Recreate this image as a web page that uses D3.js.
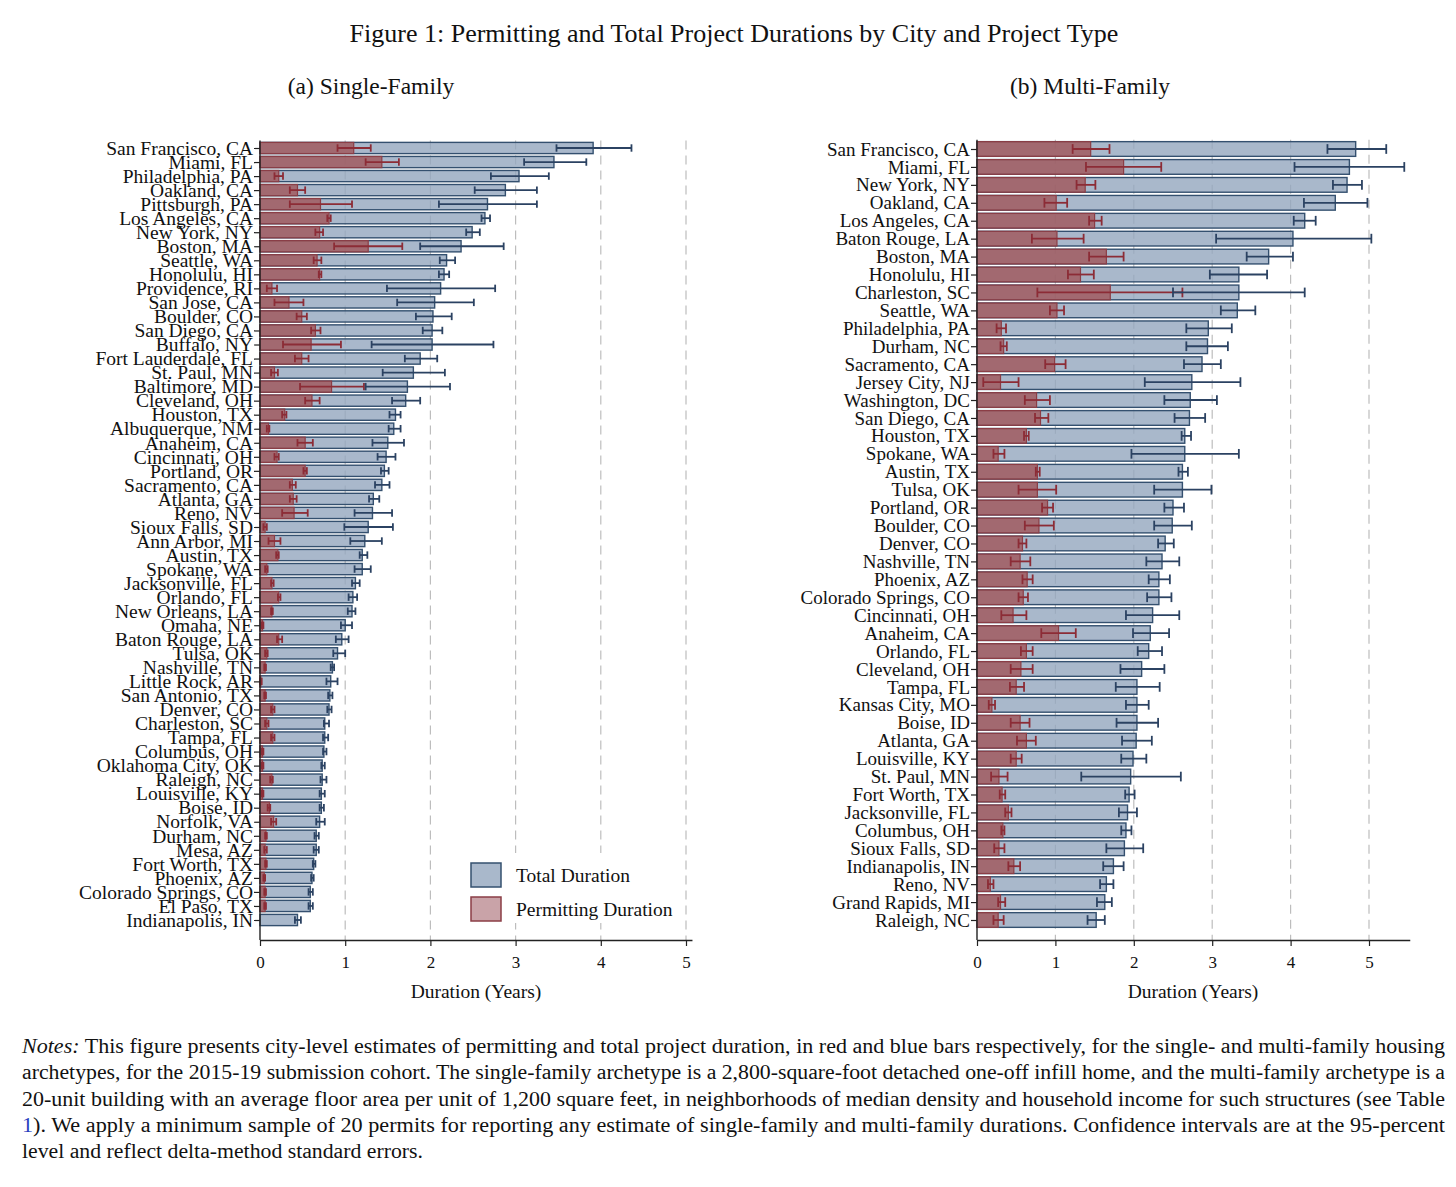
<!DOCTYPE html>
<html>
<head>
<meta charset="utf-8">
<script src="https://cdn.jsdelivr.net/npm/d3@7"></script>
<style>
  body { margin: 0; background: #ffffff; }
  svg text { font-family: "Liberation Serif", "Times New Roman", serif; fill: #111; }
</style>
</head>
<body>
<div id="chart"></div>
<script>
// Permitting and total project durations, single-family and multi-family panels

//---------------------------------------- DATA ----------------------------------------

// (a) Single-Family
const sfCities = ["San Francisco, CA", "Miami, FL", "Philadelphia, PA", "Oakland, CA", "Pittsburgh, PA",
  "Los Angeles, CA", "New York, NY", "Boston, MA", "Seattle, WA", "Honolulu, HI", "Providence, RI",
  "San Jose, CA", "Boulder, CO", "San Diego, CA", "Buffalo, NY", "Fort Lauderdale, FL", "St. Paul, MN",
  "Baltimore, MD", "Cleveland, OH", "Houston, TX", "Albuquerque, NM", "Anaheim, CA", "Cincinnati, OH",
  "Portland, OR", "Sacramento, CA", "Atlanta, GA", "Reno, NV", "Sioux Falls, SD", "Ann Arbor, MI",
  "Austin, TX", "Spokane, WA", "Jacksonville, FL", "Orlando, FL", "New Orleans, LA", "Omaha, NE",
  "Baton Rouge, LA", "Tulsa, OK", "Nashville, TN", "Little Rock, AR", "San Antonio, TX", "Denver, CO",
  "Charleston, SC", "Tampa, FL", "Columbus, OH", "Oklahoma City, OK", "Raleigh, NC", "Louisville, KY",
  "Boise, ID", "Norfolk, VA", "Durham, NC", "Mesa, AZ", "Fort Worth, TX", "Phoenix, AZ",
  "Colorado Springs, CO", "El Paso, TX", "Indianapolis, IN"];
const sfTotal = [3.91, 3.45, 3.04, 2.88, 2.67, 2.64, 2.49, 2.36, 2.19, 2.16, 2.12, 2.05, 2.03, 2.02, 2.02,
  1.88, 1.80, 1.73, 1.71, 1.59, 1.57, 1.50, 1.48, 1.46, 1.43, 1.33, 1.32, 1.27, 1.23, 1.20, 1.20, 1.12,
  1.09, 1.08, 1.00, 0.96, 0.91, 0.85, 0.83, 0.82, 0.81, 0.76, 0.76, 0.75, 0.73, 0.73, 0.72, 0.72, 0.70,
  0.66, 0.66, 0.63, 0.61, 0.59, 0.59, 0.44];
const sfTotalLo = [3.48, 3.10, 2.71, 2.52, 2.10, 2.60, 2.42, 1.88, 2.11, 2.10, 1.49, 1.61, 1.83, 1.91, 1.31,
  1.70, 1.44, 1.24, 1.55, 1.52, 1.51, 1.32, 1.38, 1.42, 1.35, 1.28, 1.11, 0.99, 1.06, 1.17, 1.11, 1.08,
  1.04, 1.03, 0.95, 0.89, 0.86, 0.83, 0.78, 0.80, 0.79, 0.75, 0.74, 0.74, 0.72, 0.71, 0.70, 0.70, 0.66,
  0.64, 0.63, 0.62, 0.60, 0.57, 0.57, 0.41];
const sfTotalHi = [4.36, 3.83, 3.39, 3.25, 3.25, 2.70, 2.58, 2.86, 2.29, 2.22, 2.76, 2.51, 2.25, 2.14, 2.74,
  2.08, 2.17, 2.23, 1.88, 1.65, 1.65, 1.69, 1.59, 1.51, 1.52, 1.40, 1.55, 1.56, 1.43, 1.26, 1.30, 1.17,
  1.14, 1.12, 1.08, 1.04, 1.00, 0.87, 0.91, 0.85, 0.84, 0.81, 0.80, 0.78, 0.76, 0.78, 0.76, 0.75, 0.76,
  0.69, 0.69, 0.65, 0.63, 0.62, 0.62, 0.48];
const sfPermit = [1.10, 1.43, 0.22, 0.44, 0.71, 0.81, 0.70, 1.27, 0.67, 0.70, 0.14, 0.34, 0.49, 0.65, 0.60,
  0.49, 0.17, 0.84, 0.61, 0.29, 0.10, 0.53, 0.20, 0.53, 0.38, 0.39, 0.40, 0.06, 0.17, 0.21, 0.08, 0.14,
  0.22, 0.14, 0.03, 0.22, 0.08, 0.06, 0.01, 0.06, 0.15, 0.08, 0.15, 0.03, 0.03, 0.14, 0.03, 0.11, 0.16,
  0.07, 0.06, 0.07, 0.05, 0.06, 0.06, null];
const sfPermitLo = [0.91, 1.24, 0.17, 0.35, 0.35, 0.79, 0.65, 0.87, 0.63, 0.69, 0.08, 0.17, 0.43, 0.60, 0.27,
  0.41, 0.13, 0.47, 0.53, 0.26, 0.08, 0.44, 0.17, 0.51, 0.35, 0.35, 0.26, 0.04, 0.10, 0.19, 0.06, 0.13,
  0.21, 0.13, 0.02, 0.20, 0.06, 0.05, 0.00, 0.05, 0.13, 0.06, 0.13, 0.02, 0.02, 0.12, 0.02, 0.09, 0.13,
  0.06, 0.05, 0.06, 0.04, 0.05, 0.05, null];
const sfPermitHi = [1.30, 1.63, 0.27, 0.53, 1.08, 0.83, 0.74, 1.67, 0.72, 0.72, 0.20, 0.51, 0.55, 0.71, 0.95,
  0.57, 0.21, 1.22, 0.70, 0.31, 0.11, 0.62, 0.22, 0.55, 0.42, 0.43, 0.56, 0.08, 0.24, 0.22, 0.09, 0.16,
  0.24, 0.15, 0.04, 0.26, 0.09, 0.07, 0.02, 0.07, 0.17, 0.10, 0.17, 0.04, 0.04, 0.15, 0.04, 0.12, 0.19,
  0.08, 0.08, 0.08, 0.06, 0.07, 0.07, null];

// (b) Multi-Family
const mfCities = ["San Francisco, CA", "Miami, FL", "New York, NY", "Oakland, CA", "Los Angeles, CA",
  "Baton Rouge, LA", "Boston, MA", "Honolulu, HI", "Charleston, SC", "Seattle, WA", "Philadelphia, PA",
  "Durham, NC", "Sacramento, CA", "Jersey City, NJ", "Washington, DC", "San Diego, CA", "Houston, TX",
  "Spokane, WA", "Austin, TX", "Tulsa, OK", "Portland, OR", "Boulder, CO", "Denver, CO", "Nashville, TN",
  "Phoenix, AZ", "Colorado Springs, CO", "Cincinnati, OH", "Anaheim, CA", "Orlando, FL", "Cleveland, OH",
  "Tampa, FL", "Kansas City, MO", "Boise, ID", "Atlanta, GA", "Louisville, KY", "St. Paul, MN",
  "Fort Worth, TX", "Jacksonville, FL", "Columbus, OH", "Sioux Falls, SD", "Indianapolis, IN", "Reno, NV",
  "Grand Rapids, MI", "Raleigh, NC"];
const mfTotal = [4.83, 4.75, 4.72, 4.57, 4.18, 4.03, 3.72, 3.34, 3.34, 3.32, 2.95, 2.94, 2.87, 2.74, 2.72,
  2.71, 2.65, 2.65, 2.62, 2.62, 2.50, 2.49, 2.40, 2.36, 2.32, 2.32, 2.24, 2.21, 2.19, 2.10, 2.04, 2.04,
  2.04, 2.03, 1.99, 1.96, 1.94, 1.92, 1.90, 1.88, 1.74, 1.65, 1.63, 1.52];
const mfTotalLo = [4.47, 4.05, 4.54, 4.17, 4.04, 3.05, 3.44, 2.97, 2.50, 3.11, 2.67, 2.67, 2.64, 2.14, 2.39,
  2.52, 2.61, 1.97, 2.57, 2.26, 2.39, 2.26, 2.31, 2.16, 2.19, 2.17, 1.90, 1.99, 2.05, 1.83, 1.77, 1.90,
  1.78, 1.85, 1.84, 1.33, 1.89, 1.81, 1.84, 1.65, 1.61, 1.57, 1.53, 1.41];
const mfTotalHi = [5.22, 5.45, 4.91, 4.98, 4.32, 5.03, 4.03, 3.70, 4.18, 3.55, 3.25, 3.20, 3.11, 3.36, 3.06,
  2.91, 2.73, 3.34, 2.69, 2.99, 2.64, 2.74, 2.51, 2.58, 2.46, 2.48, 2.58, 2.45, 2.36, 2.39, 2.33, 2.19,
  2.31, 2.23, 2.16, 2.60, 2.01, 2.04, 1.97, 2.12, 1.87, 1.74, 1.72, 1.63];
const mfPermit = [1.45, 1.87, 1.38, 1.01, 1.50, 1.02, 1.65, 1.32, 1.70, 1.02, 0.31, 0.34, 0.99, 0.30, 0.76,
  0.81, 0.63, 0.27, 0.77, 0.77, 0.90, 0.79, 0.58, 0.55, 0.64, 0.59, 0.46, 1.04, 0.63, 0.56, 0.50, 0.19,
  0.55, 0.63, 0.50, 0.28, 0.32, 0.40, 0.33, 0.28, 0.47, 0.17, 0.30, 0.27];
const mfPermitLo = [1.22, 1.39, 1.27, 0.86, 1.43, 0.70, 1.43, 1.16, 0.77, 0.93, 0.25, 0.30, 0.87, 0.08, 0.61,
  0.74, 0.60, 0.21, 0.75, 0.53, 0.83, 0.61, 0.53, 0.43, 0.58, 0.53, 0.31, 0.82, 0.56, 0.43, 0.42, 0.15,
  0.43, 0.51, 0.43, 0.18, 0.29, 0.36, 0.31, 0.22, 0.40, 0.14, 0.27, 0.21];
const mfPermitHi = [1.69, 2.35, 1.51, 1.15, 1.59, 1.36, 1.87, 1.49, 2.62, 1.11, 0.37, 0.38, 1.13, 0.53, 0.93,
  0.91, 0.66, 0.35, 0.80, 1.01, 0.97, 0.98, 0.63, 0.68, 0.71, 0.65, 0.63, 1.26, 0.71, 0.71, 0.60, 0.23,
  0.67, 0.75, 0.57, 0.39, 0.36, 0.44, 0.35, 0.35, 0.55, 0.21, 0.36, 0.34];

const xTicks = [0, 1, 2, 3, 4, 5];

const notesLines = [
  " This figure presents city-level estimates of permitting and total project duration, in red and blue bars respectively, for the single- and multi-family housing",
  "archetypes, for the 2015-19 submission cohort. The single-family archetype is a 2,800-square-foot detached one-off infill home, and the multi-family archetype is a",
  "20-unit building with an average floor area per unit of 1,200 square feet, in neighborhoods of median density and household income for such structures (see Table",
  "). We apply a minimum sample of 20 permits for reporting any estimate of single-family and multi-family durations. Confidence intervals are at the 95-percent",
  "level and reflect delta-method standard errors."
];

//---------------------------------------- CODE ----------------------------------------

var width = 1456, height = 1187;

var svg = d3.select("#chart")
  .append("svg")
  .attr("width", width)
  .attr("height", height);

// colours (bars are slightly see-through, grid lines show faintly)
const totFill = "#94a6be", totStroke = "#34506f", totCI = "#2b4262";
const perFill = "#a05559", perStroke = "#8b3e46", perCI = "#8c2c36";
const totLegendFill = "#a9b8cb", perLegendFill = "#c9a3a8";
const barOpacity = 0.8;

// title
svg.append("text")
  .attr("x", 734).attr("y", 42)
  .attr("text-anchor", "middle")
  .style("font-size", "26px")
  .text("Figure 1: Permitting and Total Project Durations by City and Project Type");

function drawPanel(p) {
  const g = svg.append("g");

  const x = d3.scaleLinear().domain([0, p.xMax]).range([p.x0, p.x0 + p.xMax * p.pxPerYear]);
  const y = d3.scalePoint().domain(p.cities).range([p.yFirst, p.yLast]);
  const barH = y.step() * p.barFrac;
  const capH = barH * 0.66;
  const yTop = p.yFirst - barH / 2 - 2;

  // subtitle
  g.append("text")
    .attr("x", p.subX).attr("y", 94)
    .attr("text-anchor", "middle")
    .style("font-size", "23.5px")
    .text(p.subtitle);

  // dashed grid lines
  g.append("g")
    .selectAll("line")
    .data(xTicks.filter(d => d > 0))
    .join("line")
    .attr("x1", d => x(d)).attr("x2", d => x(d))
    .attr("y1", yTop).attr("y2", p.yAxis)
    .attr("stroke", "#bdbdbd")
    .attr("stroke-width", 1.2)
    .attr("stroke-dasharray", "9,6");

  const rows = p.cities.map((c, i) => ({
    city: c, tot: p.total[i], totLo: p.totalLo[i], totHi: p.totalHi[i],
    per: p.permit[i], perLo: p.permitLo[i], perHi: p.permitHi[i]
  }));

  // total duration bars
  g.append("g")
    .selectAll("rect")
    .data(rows)
    .join("rect")
    .attr("x", x(0))
    .attr("y", d => y(d.city) - barH / 2)
    .attr("width", d => x(d.tot) - x(0))
    .attr("height", barH)
    .attr("fill", totFill)
    .attr("fill-opacity", barOpacity)
    .attr("stroke", totStroke)
    .attr("stroke-width", 1.4);

  // permitting duration bars
  const perRows = rows.filter(d => d.per != null);
  g.append("g")
    .selectAll("rect")
    .data(perRows)
    .join("rect")
    .attr("x", x(0))
    .attr("y", d => y(d.city) - barH / 2)
    .attr("width", d => x(d.per) - x(0))
    .attr("height", barH)
    .attr("fill", perFill)
    .attr("fill-opacity", barOpacity)
    .attr("stroke", perStroke)
    .attr("stroke-width", 1.2);

  // confidence intervals
  function ci(data, lo, hi, color) {
    const eg = g.append("g").attr("stroke", color).attr("stroke-width", 1.8).attr("fill", "none");
    eg.selectAll("line.h").data(data).join("line").attr("class", "h")
      .attr("x1", d => x(d[lo])).attr("x2", d => x(d[hi]))
      .attr("y1", d => y(d.city)).attr("y2", d => y(d.city));
    eg.selectAll("line.l").data(data).join("line").attr("class", "l")
      .attr("x1", d => x(d[lo])).attr("x2", d => x(d[lo]))
      .attr("y1", d => y(d.city) - capH / 2).attr("y2", d => y(d.city) + capH / 2);
    eg.selectAll("line.r").data(data).join("line").attr("class", "r")
      .attr("x1", d => x(d[hi])).attr("x2", d => x(d[hi]))
      .attr("y1", d => y(d.city) - capH / 2).attr("y2", d => y(d.city) + capH / 2);
  }
  ci(perRows, "perLo", "perHi", perCI);
  ci(rows, "totLo", "totHi", totCI);

  // y axis (labels are as tightly packed as in the original figure)
  const yAxis = g.append("g")
    .attr("transform", "translate(" + x(0) + ",0)")
    .call(d3.axisLeft(y).tickSize(6).tickPadding(1));
  yAxis.select(".domain").remove();
  yAxis.selectAll(".tick line").attr("stroke", "#222").attr("stroke-width", 1.2);
  yAxis.selectAll(".tick text")
    .style("font-size", p.labelSize)
    .style("font-family", "'Liberation Serif', serif")
    .attr("fill", "#111");
  g.append("line")
    .attr("x1", x(0)).attr("x2", x(0))
    .attr("y1", yTop).attr("y2", p.yAxis)
    .attr("stroke", "#222").attr("stroke-width", 1.4);

  // x axis
  const xAxis = g.append("g")
    .attr("transform", "translate(0," + p.yAxis + ")")
    .call(d3.axisBottom(x).tickValues(xTicks).tickFormat(d3.format("d")).tickSize(6).tickSizeOuter(0).tickPadding(10));
  xAxis.select(".domain").attr("stroke", "#222").attr("stroke-width", 1.4);
  xAxis.selectAll(".tick line").attr("stroke", "#222").attr("stroke-width", 1.2);
  xAxis.selectAll(".tick text")
    .style("font-size", "17px")
    .style("font-family", "'Liberation Serif', serif")
    .attr("fill", "#111");

  g.append("text")
    .attr("x", p.titleX).attr("y", 998)
    .attr("text-anchor", "middle")
    .style("font-size", "19.5px")
    .text("Duration (Years)");
}

drawPanel({
  subtitle: "(a) Single-Family", subX: 371, titleX: 476,
  cities: sfCities, total: sfTotal, totalLo: sfTotalLo, totalHi: sfTotalHi,
  permit: sfPermit, permitLo: sfPermitLo, permitHi: sfPermitHi,
  x0: 260, pxPerYear: 85.2, xMax: 5.07,
  yFirst: 148, yLast: 920, yAxis: 940, barFrac: 0.8, labelSize: "19.5px"
});

drawPanel({
  subtitle: "(b) Multi-Family", subX: 1090, titleX: 1193,
  cities: mfCities, total: mfTotal, totalLo: mfTotalLo, totalHi: mfTotalHi,
  permit: mfPermit, permitLo: mfPermitLo, permitHi: mfPermitHi,
  x0: 977, pxPerYear: 78.4, xMax: 5.52,
  yFirst: 149, yLast: 920, yAxis: 940, barFrac: 0.82, labelSize: "19px"
});

// legend (inside left panel)
const legendItems = [
  { label: "Total Duration", fill: totLegendFill, stroke: totStroke },
  { label: "Permitting Duration", fill: perLegendFill, stroke: perStroke }
];
const lg = svg.append("g").attr("transform", "translate(471,863)");
lg.append("rect").attr("x", -8).attr("y", -10).attr("width", 210).attr("height", 70).attr("fill", "#fff");
lg.selectAll("rect.sw")
  .data(legendItems)
  .join("rect")
  .attr("class", "sw")
  .attr("x", 0).attr("y", (d, i) => i * 34)
  .attr("width", 30).attr("height", 24)
  .attr("fill", d => d.fill)
  .attr("stroke", d => d.stroke)
  .attr("stroke-width", 1.5);
lg.selectAll("text")
  .data(legendItems)
  .join("text")
  .attr("x", 45).attr("y", (d, i) => i * 34 + 19)
  .style("font-size", "19.5px")
  .text(d => d.label);

// notes, justified lines in a condensed serif
const notes = svg.append("g");
const noteLeft = 22, noteWidth = 1423, noteTop = 1053, noteStep = 26.3;
notesLines.forEach(function (line, i) {
  const t = notes.append("text")
    .attr("x", noteLeft)
    .attr("y", noteTop + i * noteStep)
    .style("font-size", "20.5px");
  if (i === 0) t.append("tspan").style("font-style", "italic").text("Notes:");
  if (i === 3) t.append("tspan").style("fill", "#2b3fc0").text("1");
  t.append("tspan").text(line);
  t.attr("textLength", i < notesLines.length - 1 ? noteWidth : 401)
    .attr("lengthAdjust", "spacingAndGlyphs");
});
</script>
</body>
</html>
